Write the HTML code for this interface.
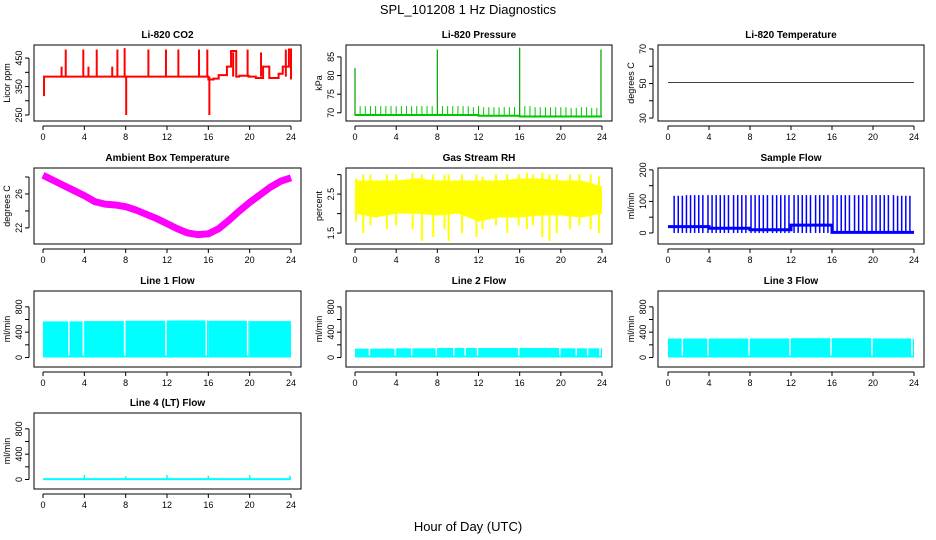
<!DOCTYPE html>
<html><head><meta charset="utf-8"><style>
html,body{margin:0;padding:0;background:#fff;}
svg{display:block;font-family:"Liberation Sans",sans-serif;}
</style></head><body>
<svg id="c" width="936" height="540" xmlns="http://www.w3.org/2000/svg">
<text x="468" y="14" text-anchor="middle" font-size="13">SPL_101208  1 Hz Diagnostics</text>
<text x="468" y="531" text-anchor="middle" font-size="13">Hour of Day (UTC)</text>
</svg>
<script>
// ---- data ----
const hourTicks = [0,4,8,12,16,20,24];
// CO2
const co2StepHours = [0,0.1,16,16.5,17,17.8,18.2,18.7,19,19.9,20.6,21.3,21.9,22.8,23.2,23.8,24];
const co2StepVals  = [320,385,375,378,390,420,475,385,388,385,380,420,380,395,420,480,375];
const co2SpikeHours = [1.8,2.2,3.9,4.4,5.2,6.7,7.2,7.9,8.05,10.2,11.9,13.1,15.1,15.9,16.1,18.4,19.8,21.1,23.5];
const co2SpikeVals  = [420,480,480,420,480,420,480,485,250,480,480,480,480,480,250,470,480,470,480];
// Pressure
const presBaseHours = [0,12,16,24];
const presBaseVals  = [69.4,69.2,69.0,69.0];
const presSpikeHours = [0.5,1,1.5,2,2.5,3,3.5,4,4.5,5,5.5,6,6.5,7,7.5,8.5,9,9.5,10,10.5,11,11.5,12,12.5,13,13.5,14,14.5,15,15.5,16.5,17,17.5,18,18.5,19,19.5,20,20.5,21,21.5,22,22.5,23,23.5];
const presSpikeVals  = [71.8,71.8,71.8,71.8,71.8,71.8,71.8,71.8,71.8,71.8,71.8,71.8,71.8,71.8,71.8,71.8,71.8,71.8,71.8,71.8,71.8,71.5,71.8,71.5,71.5,71.5,71.5,71.5,71.5,71.5,71.8,71.8,71.5,71.5,71.5,71.5,71.5,71.5,71.5,71.3,71.3,71.5,71.5,71.3,71.3];
const presBigHours = [0,8,16,23.9];
const presBigVals  = [82,87,87.5,87];
// Li-820 temperature
const licorTempHours = [0,24];
const licorTempVals  = [50.5,50.5];
// Ambient box temperature
const ambHours = [0,1,2,3,4,5,6,7,8,9,10,11,12,13,14,15,16,17,18,19,20,21,22,23,24];
const ambVals  = [28.2,27.6,27,26.4,25.8,25.1,24.8,24.7,24.5,24.1,23.6,23.1,22.5,21.9,21.4,21.2,21.3,21.9,22.9,24,25,25.9,26.8,27.5,27.9];
// Gas stream RH
const rhHours = [0,2,4,6,8,10,12,14,16,18,20,22,24];
const rhUpper = [2.85,2.85,2.85,2.9,2.85,2.85,2.85,2.85,2.9,2.9,2.85,2.85,2.7];
const rhLower = [2.0,1.9,2.0,2.0,1.95,2.0,1.8,1.9,1.9,1.95,1.95,1.9,2.0];
const rhSpikeHours = [0.1,0.8,1.5,3.1,4.0,5.6,6.5,7.6,8.7,9.1,10.4,11.8,12.4,13.7,14.8,15.9,16.7,17.3,18.2,18.9,19.6,20.9,21.8,22.9,23.7];
const rhSpikeLow   = [1.8,1.5,1.7,1.6,1.7,1.6,1.3,1.4,1.6,1.3,1.5,1.4,1.6,1.7,1.5,1.7,1.6,1.7,1.4,1.3,1.5,1.6,1.7,1.6,1.5];
const rhSpikeHigh  = [2.9,3.0,3.0,3.0,3.0,3.05,3.0,3.0,3.0,3.0,3.0,3.0,2.95,3.0,3.0,3.0,3.05,3.0,3.05,3.0,3.0,3.0,3.0,3.0,2.95];
// Sample flow
const sfBaseHours = [0,4,8,12,16,24];
const sfBaseVals  = [20,15,10,25,2,2];
const sfSpikeHours = [0.6,1,1.4,1.8,2.2,2.6,3,3.4,3.9,4.3,4.7,5.1,5.5,5.9,6.4,6.8,7.2,7.6,8.1,8.5,8.9,9.3,9.7,10.2,10.6,11,11.4,11.8,12.3,12.7,13.1,13.5,13.9,14.4,14.8,15.2,15.6,16.1,16.5,16.9,17.3,17.7,18.2,18.6,19,19.4,19.9,20.3,20.7,21.1,21.5,22,22.4,22.8,23.2,23.6];
const sfSpikeVals  = [118,118,118,120,120,120,120,120,120,120,120,120,120,120,120,120,120,120,120,120,120,120,120,120,120,120,120,120,120,120,120,120,120,120,120,120,120,120,120,120,120,120,120,120,120,120,120,120,120,120,120,120,118,118,118,118];
// Line flows
const flowGapHours1 = [2.5,3.9,7.9,11.9,15.8,19.8];
const line1Top = [570,575,580,585,580,575,560];
const line2Top = [140,145,150,150,150,145,150];
const line3Top = [300,300,300,305,305,300,295];
const line4Top = [5,5,5,5,5,5,5];
const flowSegHours = [0,4,8,12,16,20,24];
const line4SpikeHours = [4,8,12,16,20,23.9];
const line4SpikeVals  = [70,50,70,60,70,60];
const gaps2 = [1.4,3.9,5.5,7.9,9.6,10.7,11.9,15.9,19.9,21.5,22.6,23.8];
const gaps3 = [1.4,3.9,7.9,11.9,15.9,19.9,23.8];

// ---- drawing ----
const svg = document.getElementById('c');
const NS = 'http://www.w3.org/2000/svg';
function el(tag, attrs, parent){ const e=document.createElementNS(NS,tag); for(const k in attrs) e.setAttribute(k,attrs[k]); (parent||svg).appendChild(e); return e; }

const colX = [[34,301,43,291],[346,612,355,602],[658,924,668,914]];
const rowY = [[45,121],[168,244],[291,367],[413,489]];

function makePanel(col,row,title,ymin,ymax,yticks,ylabels,ytitle,name){
  const [bl,br,x0,x24]=colX[col]; const [bt,bb]=rowY[row];
  const g=el('g',{});
  
  
  const sx=h=>x0+(x24-x0)*h/24;
  const sy=v=>bb-(v-ymin)/(ymax-ymin)*(bb-bt);
  const t=el('text',{x:(bl+br)/2,y:bt-7,'text-anchor':'middle','font-size':'10','font-weight':'bold'},g);
  t.textContent=title;
  
  
  const box=el('rect',{x:bl,y:bt,width:br-bl,height:bb-bt,fill:'none',stroke:'#000','stroke-width':1},g);
  
  
  const xa=el('g',{},g);
  
  
  el('line',{x1:sx(0),x2:sx(24),y1:bb+5,y2:bb+5,stroke:'#000'},xa);
  hourTicks.forEach(h=>{ el('line',{x1:sx(h),x2:sx(h),y1:bb+5,y2:bb+9,stroke:'#000'},xa);
    const tx=el('text',{x:sx(h),y:bb+19,'text-anchor':'middle','font-size':'9'},xa); tx.textContent=h; });
  const ya=el('g',{},g);
  
  
  el('line',{x1:bl-5,x2:bl-5,y1:sy(yticks[0]),y2:sy(yticks[yticks.length-1]),stroke:'#000'},ya);
  yticks.forEach((v,i)=>{ el('line',{x1:bl-9,x2:bl-5,y1:sy(v),y2:sy(v),stroke:'#000'},ya);
    if(ylabels[i]!==''){ const tx=el('text',{x:bl-12,y:sy(v),'text-anchor':'middle','font-size':'9',transform:`rotate(-90 ${bl-12} ${sy(v)})`},ya); tx.textContent=ylabels[i]; } });
  const yt=el('text',{x:bl-24,y:(bt+bb)/2,'text-anchor':'middle','font-size':'9',transform:`rotate(-90 ${bl-24} ${(bt+bb)/2})`},ya);
  yt.textContent=ytitle;
  const clip='clip'+col+row;
  const cp=el('clipPath',{id:clip},g); el('rect',{x:bl,y:bt,width:br-bl,height:bb-bt},cp);
  const d=el('g',{'clip-path':`url(#${clip})`},g);
  
  
  return {sx,sy,d};
}
function vline(p,h,v1,v2,color,w){ el('line',{x1:p.sx(h),x2:p.sx(h),y1:p.sy(v1),y2:p.sy(v2),stroke:color,'stroke-width':w||1.5},p.d); }
function stepPath(p,hs,vs,color,w){ let s=''; hs.forEach((h,i)=>{ if(i===0) s+=`M${p.sx(h)},${p.sy(vs[i])}`; else s+=`H${p.sx(h)}V${p.sy(vs[i])}`; }); el('path',{d:s,fill:'none',stroke:color,'stroke-width':w||2},p.d); }

// CO2
let p=makePanel(0,0,'Li-820 CO2',229,496,[250,300,350,400,450],['250','','350','','450'],'Licor ppm','co2');
stepPath(p,co2StepHours,co2StepVals,'#f00',2);
co2SpikeHours.forEach((h,i)=>vline(p,h,385,co2SpikeVals[i],'#f00',2));
// Pressure
p=makePanel(1,0,'Li-820 Pressure',67.8,88.2,[70,75,80,85],['70','75','80','85'],'kPa','pressure');
stepPath(p,presBaseHours,presBaseVals,'#00c800',2);
presSpikeHours.forEach((h,i)=>vline(p,h,69.2,presSpikeVals[i],'#00c800',1));
presBigHours.forEach((h,i)=>vline(p,h,69.3,presBigVals[i],'#00a000',1.2));
// Licor temp
p=makePanel(2,0,'Li-820 Temperature',28.3,72.3,[30,40,50,60,70],['30','','50','','70'],'degrees C','licor-temp');
el('polyline',{points:licorTempHours.map((h,i)=>p.sx(h)+','+p.sy(licorTempVals[i])).join(' '),fill:'none',stroke:'#000','stroke-width':0.8},p.d);
// Ambient
p=makePanel(0,1,'Ambient Box Temperature',20.1,29.06,[22,24,26,28],['22','','26',''],'degrees C','ambient-temp');
el('polyline',{points:ambHours.map((h,i)=>p.sx(h)+','+p.sy(ambVals[i])).join(' '),fill:'none',stroke:'#f0f','stroke-width':7,'stroke-linejoin':'round'},p.d);
// RH
p=makePanel(1,1,'Gas Stream RH',1.22,3.17,[1.5,2,2.5,3],['1.5','','2.5',''],'percent','rh');
{ let s='M'+rhHours.map((h,i)=>p.sx(h)+','+p.sy(rhUpper[i])).join('L');
  for(let i=rhHours.length-1;i>=0;i--) s+=`L${p.sx(rhHours[i])},${p.sy(rhLower[i])}`;
  el('path',{d:s+'Z',fill:'#ff0'},p.d); }
rhSpikeHours.forEach((h,i)=>vline(p,h,rhSpikeLow[i],rhSpikeHigh[i],'#ff0',2));
// Sample flow
p=makePanel(2,1,'Sample Flow',-35,206,[0,50,100,150,200],['0','','100','','200'],'ml/min','sample-flow');
stepPath(p,sfBaseHours,sfBaseVals,'#00f',3);
sfSpikeHours.forEach((h,i)=>vline(p,h,0,sfSpikeVals[i],'#00f',1.5));
// Line flows
function flowPanel(col,row,title,tops,gaps,name){
  const q=makePanel(col,row,title,-150,1050,[0,200,400,600,800],['0','','400','','800'],'ml/min',name);
  flowSegHours.forEach((h,i)=>{ if(i===flowSegHours.length-1) return;
    const x1=q.sx(h), x2=q.sx(flowSegHours[i+1]);
    el('rect',{x:x1,y:q.sy(tops[i]),width:x2-x1,height:q.sy(0)-q.sy(tops[i]),fill:'#0ff'},q.d); });
  gaps.forEach(h=>el('line',{x1:q.sx(h),x2:q.sx(h),y1:q.sy(tops[0]+30),y2:q.sy(0)-2,stroke:'#fff','stroke-width':1.5},q.d));
  return q;
}
flowPanel(0,2,'Line 1 Flow',line1Top,flowGapHours1,'line1-flow');
flowPanel(1,2,'Line 2 Flow',line2Top,gaps2,'line2-flow');
flowPanel(2,2,'Line 3 Flow',line3Top,gaps3,'line3-flow');
p=flowPanel(0,3,'Line 4 (LT) Flow',line4Top,[],'line4-flow');
el('line',{x1:p.sx(0),x2:p.sx(24),y1:p.sy(5),y2:p.sy(5),stroke:'#0ff','stroke-width':2},p.d);
line4SpikeHours.forEach((h,i)=>vline(p,h,0,line4SpikeVals[i],'#0ff',1.5));
</script>
</body></html>
